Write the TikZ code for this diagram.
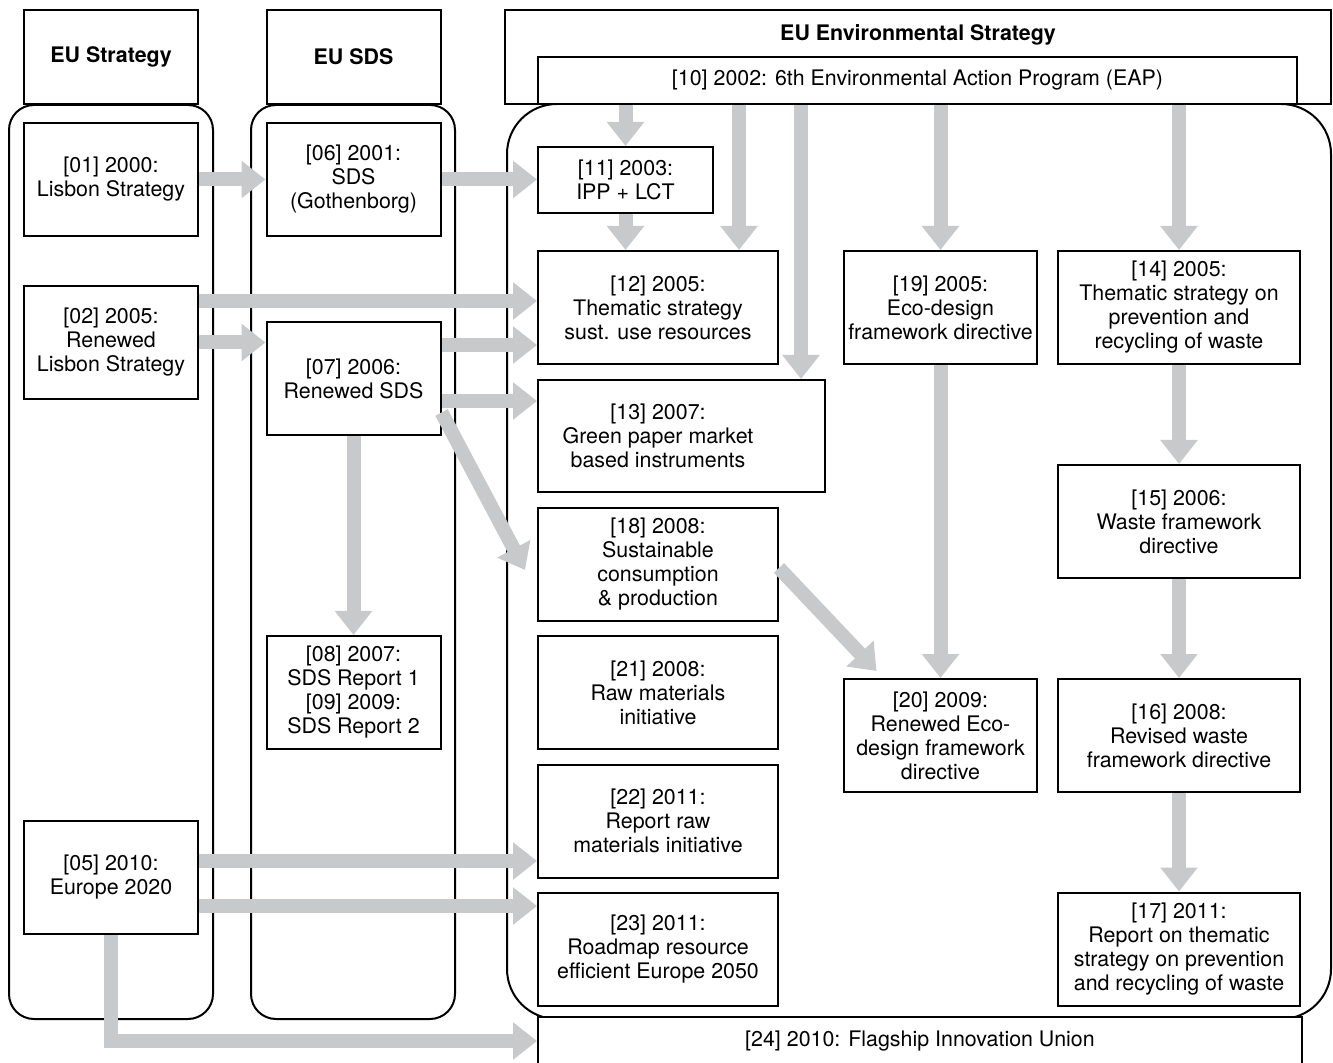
\documentclass[tikz,border=0pt]{standalone}
\usepackage{fontspec}
\setmainfont{TeX Gyre Heros}
\usetikzlibrary{arrows.meta}
\definecolor{flowgray}{RGB}{200,201,202}

\begin{document}
\begin{tikzpicture}[x=0.5pt,y=-0.5pt,
  every node/.style={font=\fontsize{10.7}{12}\selectfont},
  txt/.style={align=center,inner sep=1pt},
  box/.style={txt,draw,line width=1pt,fill=white,minimum height=56.5pt},
  colbox/.style={box,minimum width=87pt},
  midbox/.style={box,minimum width=120pt},
  ecobox/.style={box,minimum width=96.5pt},
  wastebox/.style={box,minimum width=121pt},
  headbox/.style={box,minimum width=87pt,minimum height=47pt,font=\fontsize{10.7}{12}\selectfont\bfseries},
  lane/.style={draw,line width=1pt,rounded corners=12.5pt},
  flow/.style={draw=flowgray,line width=7pt,-{Triangle[width=18pt,length=12pt]}}]
\useasboundingbox (0,0) rectangle (1333,1063);

% the three lanes
\draw[lane] (9,105) rectangle (213,1019);
\draw[lane] (251,105) rectangle (455,1019);
\draw[lane,rounded corners=25pt] (507,104) rectangle (1331,1019);

% lane headers
\node[headbox] (hstrat) at (111,57) {EU Strategy};
\node[headbox] (hsds) at (353.5,57) {EU SDS};
\node[box,minimum width=413pt,minimum height=47pt] (henv) at (918,57) {};
\node[txt,font=\fontsize{10.7}{12}\selectfont\bfseries] (tenv) at (918,35) {EU Environmental Strategy};
\node[box,minimum width=379.5pt,minimum height=23.5pt] (n10) at (917.5,80.5) {[10] 2002: 6th Environmental Action Program (EAP)};

% EU Strategy
\node[colbox] (n01) at (111,179.5) {[01] 2000:\\Lisbon Strategy};
\node[colbox] (n02) at (111,342.5) {[02] 2005:\\Renewed\\Lisbon Strategy};
\node[colbox] (n05) at (111,877.5) {[05] 2010:\\Europe 2020};

% EU SDS
\node[colbox] (n06) at (353.5,179.5) {[06] 2001:\\SDS\\(Gothenborg)};
\node[colbox] (n07) at (353.5,378.5) {[07] 2006:\\Renewed SDS};
\node[colbox] (n08) at (353.5,692.5) {[08] 2007:\\SDS Report 1\\{[09]} 2009:\\SDS Report 2};

% EU Environmental Strategy
\node[box,minimum width=87.5pt,minimum height=33pt] (n11) at (625.5,180) {[11] 2003:\\IPP + LCT};
\node[midbox] (n12) at (658,307.5) {[12] 2005:\\Thematic strategy\\sust. use resources};
\node[box,minimum width=143.5pt,minimum height=56pt] (n13) at (681.5,436) {};
\node[txt] (t13) at (658,436) {[13] 2007:\\Green paper market\\based instruments};
\node[midbox] (n18) at (658,564.5) {[18] 2008:\\Sustainable\\consumption\\\& production};
\node[midbox] (n21) at (658,692.5) {[21] 2008:\\Raw materials\\initiative};
\node[midbox] (n22) at (658,821) {[22] 2011:\\Report raw\\materials initiative};
\node[midbox] (n23) at (658,949) {[23] 2011:\\Roadmap resource\\efficient Europe 2050};
\node[ecobox] (n19) at (940.5,307.5) {[19] 2005:\\Eco-design\\framework directive};
\node[ecobox] (n20) at (940.5,735.5) {[20] 2009:\\Renewed Eco-\\design framework\\directive};
\node[wastebox] (n14) at (1179,307.5) {[14] 2005:\\Thematic strategy on\\prevention and\\recycling of waste};
\node[wastebox] (n15) at (1179,521.5) {[15] 2006:\\Waste framework\\directive};
\node[wastebox] (n16) at (1179,735.5) {[16] 2008:\\Revised waste\\framework directive};
\node[wastebox] (n17) at (1179,949) {[17] 2011:\\Report on thematic\\strategy on prevention\\and recycling of waste};
\node[box,minimum width=382pt,minimum height=24pt] (n24) at (920,1041) {[24] 2010: Flagship Innovation Union};

% helper points for the flows
\coordinate (a02up) at ([yshift=20.75pt]n02.east);
\coordinate (a07up) at ([yshift=16.75pt]n07.east);
\coordinate (a07dn) at ([yshift=-11.25pt]n07.east);
\coordinate (a05up) at ([yshift=8.25pt]n05.east);
\coordinate (a05dn) at ([yshift=-14.25pt]n05.east);
\coordinate (c12) at ([xshift=-20pt]n12.north east);
\coordinate (c13) at ([xshift=-12.5pt]n13.north east);

% flows
\draw[flow] (n01.east) -- (n01.east -| n06.west);
\draw[flow] (n06.east) -- (n06.east -| n11.west);
\draw[flow] (a02up) -- (a02up -| n12.west);
\draw[flow] (n02.east) -- (n02.east -| n07.west);
\draw[flow] (a07up) -- (a07up -| n12.west);
\draw[flow] (a07dn) -- (a07dn -| n13.west);
\draw[flow] ([yshift=-17pt]n07.east) -- ([xshift=-6pt,yshift=-2.75pt]n18.west);
\draw[flow] (n07.south) -- (n08.north);
\draw[flow] (n11.north |- n10.south) -- (n11.north);
\draw[flow] (n11.south) -- (n11.south |- n12.north);
\draw[flow] (c12 |- n10.south) -- (c12);
\draw[flow] (c13 |- n10.south) -- (c13);
\draw[flow] (n19.north |- n10.south) -- (n19.north);
\draw[flow] (n14.north |- n10.south) -- (n14.north);
\draw[flow] (n19.south) -- (n20.north);
\draw[flow] ([yshift=-1.75pt]n18.east) -- ([xshift=-32pt,yshift=3.5pt]n20.north);
\draw[flow] (n14.south) -- (n15.north);
\draw[flow] (n15.south) -- (n16.north);
\draw[flow] (n16.south) -- (n17.north);
\draw[flow] (a05up) -- (a05up -| n22.west);
\draw[flow] (a05dn) -- (a05dn -| n23.west);
\draw[flow] (n05.south) |- (n24.west);
\end{tikzpicture}
\end{document}
